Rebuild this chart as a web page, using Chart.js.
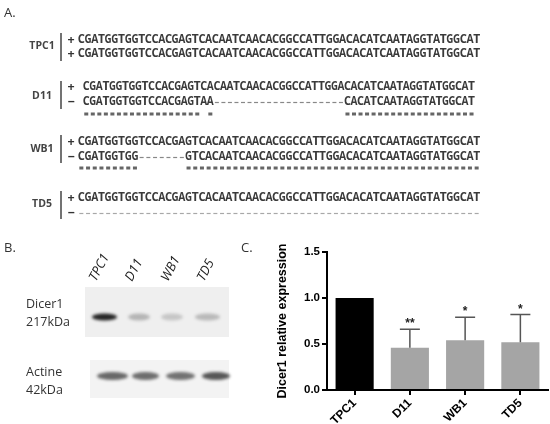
<!DOCTYPE html>
<html><head><meta charset="utf-8">
<script src="https://cdn.jsdelivr.net/npm/chart.js@4"></script>
<style>
html,body{margin:0;padding:0;background:#fff;width:550px;height:424px;overflow:hidden}
#bg{position:absolute;left:0;top:0}
#wrap{position:absolute;left:270px;top:240px;width:280px;height:184px}
</style></head><body>
<canvas id="bg" width="550" height="424"></canvas>
<div id="wrap"><canvas id="c" width="280" height="184"></canvas></div>
<script>
// ---- Panel C data ----
const categories = ['TPC1', 'D11', 'WB1', 'TD5'];
const relExpression = [1.0, 0.46, 0.54, 0.52];
const errorUpper = [0, 0.20, 0.25, 0.30];
const significance = ['', '**', '*', '*'];
const yTickValues = [0, 0.5, 1.0, 1.5];

// ---- Panel A data ----
const cloneNames = ['TPC1', 'D11', 'WB1', 'TD5'];
const alleleSigns = [['+', '+'], ['+', '−'], ['+', '−'], ['+', '−']];
const refSeq = 'CGATGGTGGTCCACGAGTCACAATCAACACGGCCATTGGACACATCAATAGGTATGGCAT';
const d11Allele = 'CGATGGTGGTCCACGAGTAA' + '--------------------' + 'CACATCAATAGGTATGGCAT';
const wb1Allele = 'CGATGGTGG' + '-------' + 'GTCACAATCAACACGGCCATTGGACACATCAATAGGTATGGCAT';
const td5Allele = '------------------------------------------------------------';
const alleleSeqs = [[refSeq, refSeq], [refSeq, d11Allele], [refSeq, wb1Allele], [refSeq, td5Allele]];
const matchLines = ['',
  '****************** *' + '                    ' + '********************',
  '*********' + '       ' + '********************************************',
  ''];

// ---- Panel B data ----
const blotLanes = ['TPC1', 'D11', 'WB1', 'TD5'];
const dicerBand = [0.9, 0.26, 0.18, 0.24];
const actinBand = [0.62, 0.6, 0.58, 0.7];

// ================= background drawing (panels A and B) =================
const bg = document.getElementById('bg').getContext('2d');
bg.fillStyle = '#fff'; bg.fillRect(0, 0, 550, 424);
const groupLayout = [
  {rows: [40, 54], stars: null, label: 46, x0: 78, cw: 6.7, bar: [33, 61]},
  {rows: [87, 102], stars: 114, label: 96, x0: 83, cw: 6.53, bar: [81, 109]},
  {rows: [142, 157], stars: 168, label: 149, x0: 78, cw: 6.7, bar: [135, 163]},
  {rows: [198, 213], stars: null, label: 204, x0: 78, cw: 6.7, bar: [191, 219]}
];
bg.textBaseline = 'middle';
bg.fillStyle = '#333';
bg.font = '13px "Open Sans"';
bg.textAlign = 'left';
bg.fillText('A.', 4, 13);
bg.fillText('B.', 4, 248);
bg.fillText('C.', 241, 248);

cloneNames.forEach((name, g) => {
  const L = groupLayout[g];
  bg.fillStyle = '#444';
  bg.font = 'bold 10.5px "Open Sans"';
  bg.textAlign = 'center';
  bg.fillText(name, 42, L.label);
  bg.strokeStyle = '#444'; bg.lineWidth = 1.5;
  bg.beginPath(); bg.moveTo(61, L.bar[0]); bg.lineTo(61, L.bar[1]); bg.stroke();
  for (let r = 0; r < 2; r++) {
    const y = L.rows[r];
    bg.fillStyle = '#333';
    bg.font = 'bold 12.5px "Open Sans"';
    bg.textAlign = 'center';
    bg.fillText(alleleSigns[g][r], 71, y);
    const s = alleleSeqs[g][r];
    for (let i = 0; i < s.length; i++) {
      const cx = L.x0 + L.cw * (i + 0.5);
      const ch = s[i];
      if (ch === '-') {
        bg.strokeStyle = g === 3 ? '#a8a8a8' : '#888';
        bg.lineWidth = 1.2;
        bg.beginPath(); bg.moveTo(cx - 2, y + 0.5); bg.lineTo(cx + 2, y + 0.5); bg.stroke();
      } else {
        bg.fillStyle = '#3a3a3a';
        bg.font = 'bold 12px "Open Sans"';
        bg.fillText(ch, cx, y, L.cw + 0.4);
      }
    }
  }
  if (L.stars) {
    const m = matchLines[g];
    bg.fillStyle = '#666';
    for (let i = 0; i < m.length; i++) {
      if (m[i] === '*') {
        const cx = L.x0 + L.cw * (i + 0.5);
        bg.fillRect(cx - 2, L.stars - 1.5, 4, 3);
      }
    }
  }
});

// Panel B blot
bg.fillStyle = '#efefef'; bg.fillRect(85, 287, 144, 50);
bg.fillStyle = '#f3f3f3'; bg.fillRect(90, 360, 139, 38);
const dicerX = [[92, 117], [128, 150], [161, 183], [195, 220]];
const actinX = [[97, 128], [132, 159], [166, 195], [202, 230]];
bg.filter = 'blur(1.5px)';
dicerBand.forEach((a, i) => {
  bg.fillStyle = `rgba(15,15,15,${a})`;
  bg.beginPath();
  bg.ellipse((dicerX[i][0] + dicerX[i][1]) / 2, 317, (dicerX[i][1] - dicerX[i][0]) / 2, 3.5, 0, 0, Math.PI * 2);
  bg.fill();
});
actinBand.forEach((a, i) => {
  bg.fillStyle = `rgba(20,20,20,${a})`;
  bg.beginPath();
  bg.ellipse((actinX[i][0] + actinX[i][1]) / 2, 376, (actinX[i][1] - actinX[i][0]) / 2, 4, 0, 0, Math.PI * 2);
  bg.fill();
});
bg.filter = 'none';
bg.fillStyle = '#333';
bg.font = '12.5px "Open Sans"';
bg.textAlign = 'left';
bg.fillText('Dicer1', 26, 304);
bg.fillText('217kDa', 26, 322);
bg.fillText('Actine', 26, 372);
bg.fillText('42kDa', 26, 390);
const laneStartX = [96, 132, 168, 204];
bg.font = 'italic 13px "Open Sans"';
bg.fillStyle = '#222';
bg.textBaseline = 'alphabetic';
blotLanes.forEach((t, i) => {
  bg.save();
  bg.translate(laneStartX[i], 282);
  bg.rotate(-62 * Math.PI / 180);
  bg.fillText(t, 0, 0);
  bg.restore();
});

// ================= Panel C chart =================
const barColors = categories.map((c, i) => i === 0 ? '#000000' : '#a5a5a5');
const errorPlugin = {
  id: 'errbars',
  afterDatasetsDraw(chart) {
    const {ctx, scales: {y}} = chart;
    const meta = chart.getDatasetMeta(0);
    ctx.save();
    meta.data.forEach((bar, i) => {
      if (!errorUpper[i]) return;
      const yb = y.getPixelForValue(relExpression[i]);
      const yt = y.getPixelForValue(relExpression[i] + errorUpper[i]);
      ctx.strokeStyle = '#555'; ctx.lineWidth = 1.5;
      ctx.beginPath();
      ctx.moveTo(bar.x, yb); ctx.lineTo(bar.x, yt);
      ctx.moveTo(bar.x - 10, yt); ctx.lineTo(bar.x + 10, yt);
      ctx.stroke();
      ctx.fillStyle = '#222';
      ctx.font = 'bold 12px "Liberation Sans"';
      ctx.textAlign = 'center'; ctx.textBaseline = 'alphabetic';
      ctx.fillText(significance[i], bar.x, yt - 2);
    });
    ctx.restore();
  }
};
new Chart(document.getElementById('c'), {
  type: 'bar',
  data: {labels: categories, datasets: [{data: relExpression, backgroundColor: barColors, borderWidth: 0, barPercentage: 0.69, categoryPercentage: 1}]},
  options: {
    responsive: false, animation: false, devicePixelRatio: 1,
    layout: {padding: {top: 12, right: 2, left: 0, bottom: 0}},
    plugins: {legend: {display: false}, tooltip: {enabled: false}},
    scales: {
      x: {
        grid: {offset: false, drawOnChartArea: false, drawTicks: true, tickLength: 5, color: '#000', lineWidth: 2},
        border: {color: '#000', width: 2},
        ticks: {minRotation: 45, maxRotation: 45, color: '#000', padding: 1, font: {family: 'Liberation Sans', weight: 'bold', size: 12}},
        afterFit: s => { s.height = 34; }
      },
      y: {
        min: 0, max: 1.5,
        afterBuildTicks: s => { s.ticks = yTickValues.map(v => ({value: v})); },
        grid: {drawOnChartArea: false, drawTicks: true, tickLength: 5, color: '#000', lineWidth: 2},
        border: {color: '#000', width: 2},
        ticks: {color: '#000', padding: 2, font: {family: 'Liberation Sans', weight: 'bold', size: 11.5}, callback: v => Number(v).toFixed(1)},
        title: {display: true, text: 'Dicer1 relative expression', color: '#000', padding: {top: 5, bottom: 0}, font: {family: 'Liberation Sans', weight: 'bold', size: 12.5}},
        afterFit: s => { s.width = 57; }
      }
    }
  },
  plugins: [errorPlugin]
});
</script>
</body></html>
